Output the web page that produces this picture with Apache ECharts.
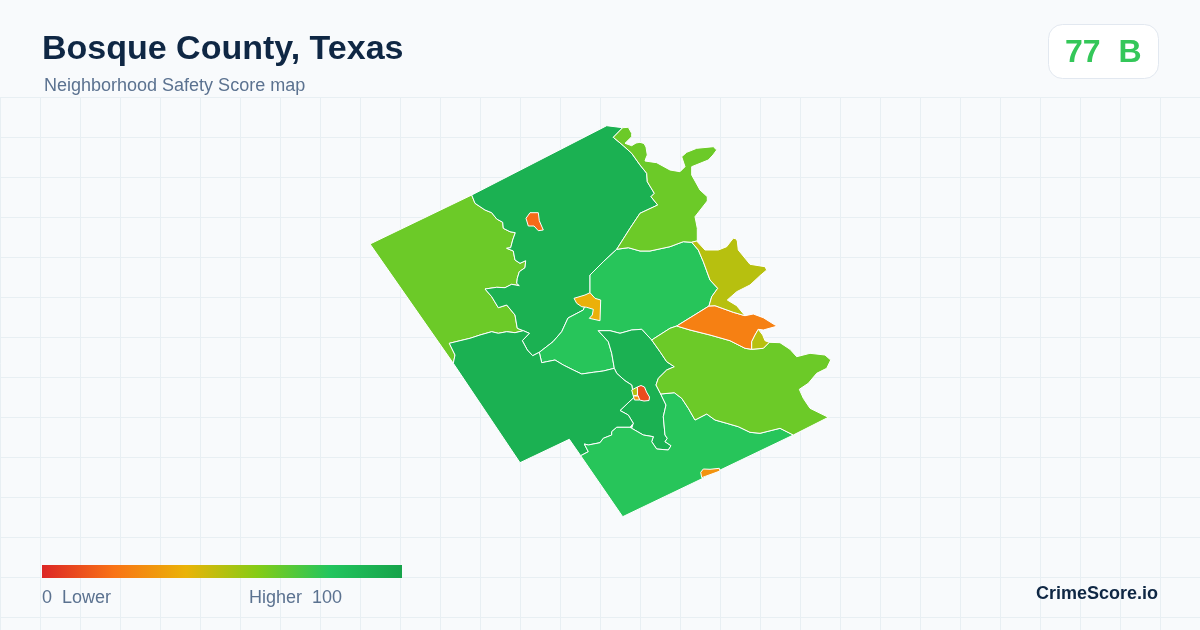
<!DOCTYPE html>
<html lang="en">
<head>
    <meta charset="UTF-8">
    <title>Bosque County, Texas</title>
    <script src="https://cdn.jsdelivr.net/npm/echarts@6/dist/echarts.min.js"></script>
    <style>
        html, body { margin: 0; padding: 0; background: #f8fafc; }
        #main { width: 1200px; height: 630px; }
    </style>
</head>
<body>
    <div id="main"></div>
    <script>
        // scores per zone, the order is also the paint order (towns last)
        var zoneNames = ['West', 'North', 'Central', 'East Central', 'South', 'Southeast', 'East', 'Riverside', 'Northeast', 'Lakeside', 'Lakeside Pocket', 'Clifton', 'Meridian', 'Valley Mills', 'Morgan', 'Cranfills Gap', 'Laguna Park'];
        var zoneScores = [65, 92, 79, 92, 92, 79, 65, 24, 65, 50, 50, 39, 18, 10, 50, 30, 30];
        var scoreTicks = [0, 100];

        // zone outlines
        var zoneOutlines = [
            [[370,244],[471.7,195],[475,203.3],[485,210],[491.7,212.7],[496.7,219],[502.7,222.3],[503.3,228.3],[510,231.7],[515.3,232.7],[512.7,240],[510.7,247.7],[506.7,248.3],[513.3,251],[515,260],[520,263.3],[525.7,260.7],[525,267.7],[519.3,271.7],[517.3,278.3],[516.7,283.3],[519.3,285.7],[511.7,284.3],[505,287.7],[496.7,287.3],[485,289],[491.7,296.7],[498.3,307.7],[506.7,305],[515,315],[516.7,325],[517.3,328.3],[523.3,330.7],[515,332.7],[506.7,331.7],[498.3,333.3],[491.7,331.7],[480,335],[470,338.3],[460,340.7],[449.3,343.3],[455,355],[453.3,363.3]],
            [[471.7,195],[606.7,125.7],[622.7,127.7],[613.3,137.3],[623.3,145.7],[631.7,153.3],[640,165],[646.7,173.3],[647.3,181.7],[654.3,193.3],[651,196.7],[657.7,205],[640,213.3],[630,228.3],[616.7,249.3],[603.3,261.7],[590,275],[590,285],[590,292.7],[583.3,310],[568,318],[561.7,331.7],[553,341.7],[539.3,352.3],[532.7,355.7],[527.3,350],[522.3,340.7],[529.3,333.3],[523.3,330.7],[517.3,328.3],[516.7,325],[515,315],[506.7,305],[498.3,307.7],[491.7,296.7],[485,289],[496.7,287.3],[505,287.7],[511.7,284.3],[519.3,285.7],[516.7,283.3],[517.3,278.3],[519.3,271.7],[525,267.7],[525.7,260.7],[520,263.3],[515,260],[513.3,251],[506.7,248.3],[510.7,247.7],[512.7,240],[515.3,232.7],[510,231.7],[503.3,228.3],[502.7,222.3],[496.7,219],[491.7,212.7],[485,210],[475,203.3]],
            [[616.7,249.3],[628.3,247.7],[640,251],[650,251],[670,246.7],[683.3,241.7],[691.7,242.3],[698.3,250],[703.3,261.7],[710,280],[717.7,288.3],[711.7,296.7],[709,306],[676.7,326],[670,328.3],[651.7,340],[641.7,329.3],[631.7,330],[620,333.3],[610,330.7],[598.3,330.7],[608.3,341.7],[611.7,353.3],[614.3,368.3],[603.3,371],[593.3,372.3],[581.7,374],[573.3,370],[563.3,365],[555,360],[546.7,361.7],[541.7,362.7],[539.3,352.3],[553,341.7],[561.7,331.7],[568,318],[583.3,310],[590,292.7],[590,285],[590,275],[603.3,261.7]],
            [[598.3,330.7],[610,330.7],[620,333.3],[631.7,330],[641.7,329.3],[651.7,340],[660,351.7],[666.7,361.7],[674.3,366.7],[666.7,370],[658.3,378.3],[656,385],[660.7,394],[666,405],[663.3,416.7],[665,435],[667.3,438.3],[665,441.7],[671,445.7],[668.3,450],[656.7,449],[651.7,441.7],[653.3,436.7],[643.3,435],[631.7,428.3],[633.3,423.3],[628.3,415],[620,410.5],[634,397.3],[631.7,385],[625,380.7],[616.7,373.3],[614.3,368.3],[611.7,353.3],[608.3,341.7]],
            [[449.3,343.3],[460,340.7],[470,338.3],[480,335],[491.7,331.7],[498.3,333.3],[506.7,331.7],[515,332.7],[523.3,330.7],[529.3,333.3],[522.3,340.7],[527.3,350],[532.7,355.7],[539.3,352.3],[541.7,362.7],[546.7,361.7],[555,360],[563.3,365],[573.3,370],[581.7,374],[593.3,372.3],[603.3,371],[614.3,368.3],[616.7,373.3],[625,380.7],[631.7,385],[634,397.3],[620,410.5],[628.3,415],[633.3,423.3],[630,427.3],[616.7,427.3],[611.7,431.7],[611.7,435],[603.3,438.3],[600,442.7],[588.3,445],[584.3,444],[588.3,451.7],[580.7,455.7],[569.3,439.3],[520,462.7],[453.3,363.3],[455,355]],
            [[580.7,455.7],[588.3,451.7],[584.3,444],[588.3,445],[600,442.7],[603.3,438.3],[611.7,435],[611.7,431.7],[616.7,427.3],[630,427.3],[631.7,428.3],[643.3,435],[653.3,436.7],[651.7,441.7],[656.7,449],[668.3,450],[671,445.7],[665,441.7],[667.3,438.3],[665,435],[663.3,416.7],[666,405],[660.7,394],[674.3,392.7],[681.7,398.3],[688.3,408.3],[695,420],[706.7,414],[715,420],[726.7,423.3],[738.3,426.7],[750,432.3],[760,433.3],[780,428.3],[793.3,435],[622.7,516.7]],
            [[651.7,340],[670,328.3],[676.7,326],[690,330],[710,335],[730,340.7],[745,348.3],[751.7,349.3],[763.3,348.3],[769.3,342.3],[780,342.7],[790,349.3],[796.7,356.7],[810,353.3],[825,355],[830.7,360],[826.7,368.3],[816.7,373.3],[808.3,383.3],[799.3,389.3],[803.3,398.3],[810,408.3],[828.3,417.3],[793.3,435],[780,428.3],[760,433.3],[750,432.3],[738.3,426.7],[726.7,423.3],[715,420],[706.7,414],[695,420],[688.3,408.3],[681.7,398.3],[674.3,392.7],[660.7,394],[656,385],[658.3,378.3],[666.7,370],[674.3,366.7],[666.7,361.7],[660,351.7]],
            [[676.7,326],[709,306],[715,305.7],[733.3,312.3],[745,315.7],[753.3,314],[763.3,317.7],[775,325],[777.7,326],[763.3,330],[758.3,329.3],[755,335],[751.7,341.7],[751.7,349.3],[745,348.3],[730,340.7],[710,335],[690,330]],
            [[622.7,127.7],[628.3,127.3],[631.7,133.3],[631.7,136.7],[625,143.3],[631.7,145.7],[636,143],[640,142.3],[644,143.5],[646,147],[647.3,155],[646,158],[645,161],[656.7,162.7],[670,170],[680,171.7],[685,166.7],[681.7,156.7],[686.7,152.3],[696.7,148.3],[713.3,146.7],[716.7,150],[713,155],[708.3,160],[691.7,166.7],[691.7,175],[700,190],[707.3,196.7],[707.3,201],[695,216.7],[697.3,228.3],[697.3,241],[691.7,242.3],[683.3,241.7],[670,246.7],[650,251],[640,251],[628.3,247.7],[616.7,249.3],[630,228.3],[640,213.3],[657.7,205],[651,196.7],[654.3,193.3],[647.3,181.7],[646.7,173.3],[640,165],[631.7,153.3],[623.3,145.7],[613.3,137.3]],
            [[691.7,242.3],[696.7,241],[705,250],[718.3,250],[726.7,246.7],[731,241],[733.3,238.3],[736,238.8],[737.3,241],[738.3,250],[750,264.3],[765,266.7],[766.7,270],[760,275.7],[750,285],[736.7,291.7],[727.3,300],[736.7,305.7],[745,315.7],[733.3,312.3],[715,305.7],[709,306],[711.7,296.7],[717.7,288.3],[710,280],[703.3,261.7],[698.3,250]],
            [[751.7,349.3],[751.7,341.7],[755,335],[758.3,329.3],[762.7,335],[765,340.7],[769.3,342.3],[763.3,348.3]],
            [[590,292.7],[585,295],[574,298.3],[576.7,303.3],[581.7,306.7],[586.7,307.3],[593.3,309.3],[592.3,315],[589.3,318.3],[600,320.7],[600.7,300],[595,298.3]],
            [[530,212.7],[538.3,212.7],[539.3,220.7],[543.3,230],[538.3,230.7],[534,226],[528.3,226],[526,218.3]],
            [[637.3,387],[641,385.5],[644.5,387],[646.5,392],[649.5,397],[649,400.5],[644,401],[639.5,400],[637.5,395]],
            [[631.7,390],[636,387.7],[637.3,387],[637.5,395],[638.3,396],[633.3,396]],
            [[633.3,396],[638.3,396],[639.5,400],[634.5,400]],
            [[700.7,472.3],[703.3,469],[710,469.3],[719.3,468.3],[720,471],[701.7,477.7]]
        ];

        var rampColors = ['#dc2626', '#f97316', '#eab308', '#84cc16', '#22c55e', '#16a34a'];

        var features = zoneNames.map(function (name, i) {
            return {
                type: 'Feature',
                properties: { name: name },
                geometry: { type: 'Polygon', coordinates: [zoneOutlines[i]] }
            };
        });
        echarts.registerMap('bosque', { type: 'FeatureCollection', features: features });

        var myChart = echarts.init(document.getElementById('main'));
        var textColor = '#5b7290';
        var flat = { project: function (p) { return p; }, unproject: function (p) { return p; } };

        // legend bar uses the same stops as the visualMap
        var rampStops = rampColors.map(function (c, i) {
            return { offset: i / (rampColors.length - 1), color: c };
        });

        var option = {
            backgroundColor: '#f8fafc',
            animation: false,
            // the faint background grid
            grid: { left: 0, right: 0, top: 97, bottom: 0 },
            xAxis: {
                type: 'value', min: 0, max: 1200, interval: 40,
                axisLine: { show: false }, axisTick: { show: false }, axisLabel: { show: false },
                splitLine: { lineStyle: { color: '#e8eff3', width: 1 } }
            },
            yAxis: {
                type: 'value', inverse: true, min: 0, max: 533, interval: 40,
                axisLine: { show: false }, axisTick: { show: false }, axisLabel: { show: false },
                splitLine: { lineStyle: { color: '#e8eff3', width: 1 } }
            },
            geo: {
                map: 'bosque',
                projection: flat,
                roam: false,
                z: 3,
                left: 0, top: 0, width: 1200, height: 630,
                boundingCoords: [[0, 0], [1200, 630]],
                label: { show: false },
                itemStyle: { borderColor: '#ffffff', borderWidth: 1 },
                emphasis: { disabled: true }
            },
            visualMap: {
                type: 'continuous',
                show: false,
                seriesIndex: 0,
                min: scoreTicks[0],
                max: scoreTicks[1],
                inRange: { color: rampColors }
            },
            series: [{
                type: 'map',
                geoIndex: 0,
                z: 3,
                data: zoneNames.map(function (name, i) {
                    return { name: name, value: zoneScores[i] };
                })
            }],
            graphic: [
                { type: 'text', left: 42, top: 33, z: 10, style: { text: 'Bosque County, Texas', fill: '#0f2744', font: 'bold 34px "Liberation Sans", Arial, sans-serif' } },
                { type: 'text', left: 44, top: 77, z: 10, style: { text: 'Neighborhood Safety Score map', fill: textColor, font: '18px "Liberation Sans", Arial, sans-serif' } },
                { type: 'rect', z: 10, shape: { x: 1048.5, y: 24.5, width: 110, height: 54, r: 14 }, style: { fill: '#ffffff', stroke: '#e2e8f0', lineWidth: 1 } },
                { type: 'text', left: 1065, top: 37, z: 11, style: { text: '77  B', fill: '#34c759', font: 'bold 32px "Liberation Sans", Arial, sans-serif' } },
                { type: 'rect', z: 10, shape: { x: 42, y: 565, width: 360, height: 13 }, style: { fill: new echarts.graphic.LinearGradient(0, 0, 1, 0, rampStops) } },
                { type: 'text', left: 42, top: 589, z: 10, style: { text: scoreTicks[0] + '  Lower', fill: textColor, font: '18px "Liberation Sans", Arial, sans-serif' } },
                { type: 'text', left: 249, top: 589, z: 10, style: { text: 'Higher  ' + scoreTicks[1], fill: textColor, font: '18px "Liberation Sans", Arial, sans-serif' } },
                { type: 'text', right: 42, top: 585, z: 10, style: { text: 'CrimeScore.io', fill: '#0f2744', font: 'bold 18px "Liberation Sans", Arial, sans-serif' } }
            ]
        };
        myChart.setOption(option);
    </script>
</body>
</html>
